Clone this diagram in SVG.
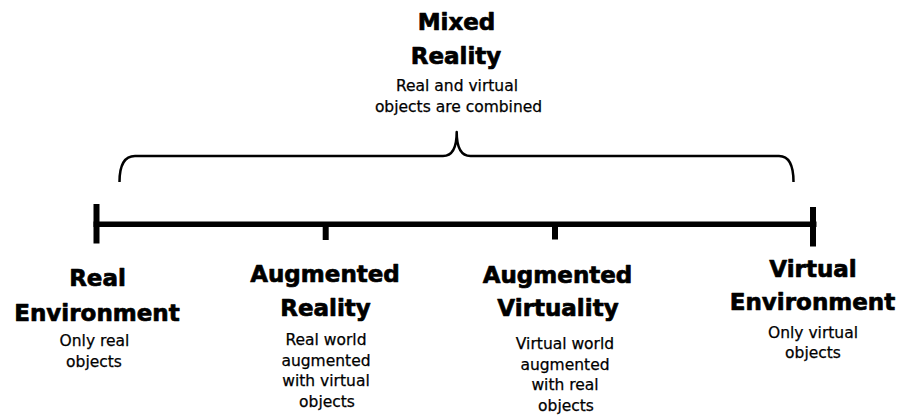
<svg xmlns="http://www.w3.org/2000/svg" width="900" height="419" viewBox="0 0 900 419">
  <style>
    .title { font-family: "DejaVu Sans", "Open Sans", sans-serif; font-weight: bold; font-size: 23px; fill: #000; stroke: #000; stroke-width: 0.7; stroke-linejoin: round; text-anchor: middle; }
    .desc { font-family: "DejaVu Sans", "Open Sans", sans-serif; font-size: 15.5px; fill: #000; stroke: #000; stroke-width: 0.25; text-anchor: middle; }
    .bar { fill: #000; }
    .brace { fill: none; stroke: #000; stroke-width: 2.5; stroke-linecap: butt; stroke-linejoin: round; }
  </style>
  <rect width="900" height="419" fill="#fff"/>

  <!-- continuum axis with end stops and intermediate ticks -->
  <g id="connectors">
    <rect class="bar" x="93.5" y="221.5" width="723" height="5.5"/>
    <rect class="bar" x="93.5" y="204" width="6" height="39.5"/>
    <rect class="bar" x="810" y="207" width="6" height="39.5"/>
    <rect class="bar" x="322.7" y="224" width="6" height="16"/>
    <rect class="bar" x="552" y="224" width="6" height="15.5"/>
    <!-- curly brace spanning the mixed reality range -->
    <path class="brace" d="M119.5,182 C119.5,166 124,156 135,156 L443,156 C452,156 456.7,148 456.7,132 C456.7,148 461.5,156 470.5,156 L779,156 C789,156 793.5,166 793.5,182"/>
  </g>

  <g id="mixed-reality">
    <text class="title" x="456.5" y="29.5">Mixed</text>
    <text class="title" x="456" y="63.8">Reality</text>
    <text class="desc" x="457" y="90.8">Real and virtual</text>
    <text class="desc" x="458.5" y="112">objects are combined</text>
  </g>

  <g id="real-environment">
    <text class="title" x="97.5" y="286.3">Real</text>
    <text class="title" x="97" y="320.5">Environment</text>
    <text class="desc" x="94.5" y="346.3">Only real</text>
    <text class="desc" x="94" y="366.5">objects</text>
  </g>

  <g id="augmented-reality">
    <text class="title" x="325" y="282">Augmented</text>
    <text class="title" x="325.5" y="315.5">Reality</text>
    <text class="desc" x="326" y="345.3">Real world</text>
    <text class="desc" x="326" y="365.5">augmented</text>
    <text class="desc" x="326" y="386">with virtual</text>
    <text class="desc" x="327" y="406.8">objects</text>
  </g>

  <g id="augmented-virtuality">
    <text class="title" x="557.5" y="283">Augmented</text>
    <text class="title" x="558" y="316.3">Virtuality</text>
    <text class="desc" x="565" y="349.3">Virtual world</text>
    <text class="desc" x="565" y="370">augmented</text>
    <text class="desc" x="565" y="390.3">with real</text>
    <text class="desc" x="566" y="411">objects</text>
  </g>

  <g id="virtual-environment">
    <text class="title" x="813" y="276.7">Virtual</text>
    <text class="title" x="812.5" y="310.3">Environment</text>
    <text class="desc" x="813" y="337.8">Only virtual</text>
    <text class="desc" x="813" y="358.3">objects</text>
  </g>
</svg>
